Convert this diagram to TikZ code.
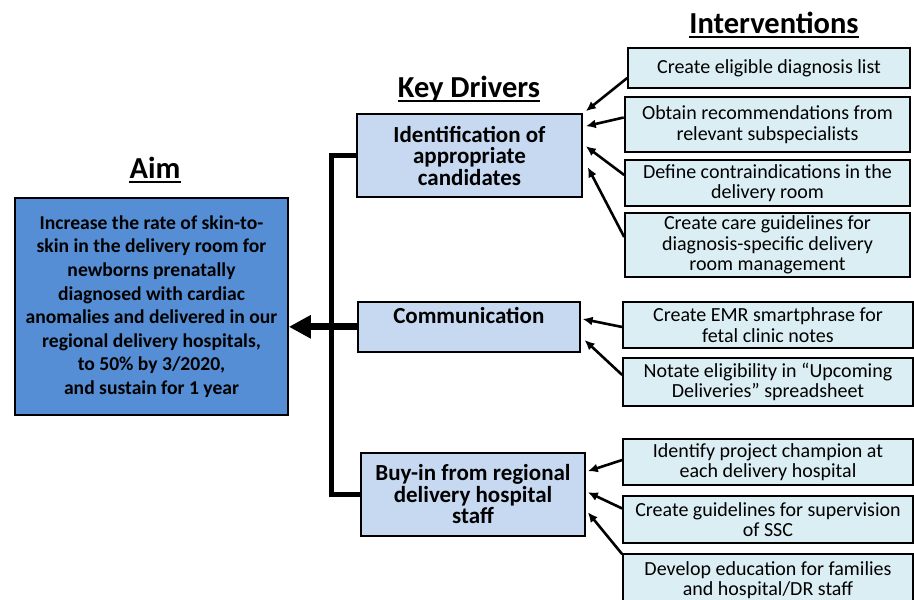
\documentclass[tikz,border=0pt]{standalone}
\usepackage{fontspec}
\setmainfont{Carlito}
\usetikzlibrary{arrows.meta,positioning,calc}
\definecolor{aimblue}{RGB}{85,142,213}
\definecolor{drvblue}{RGB}{198,217,241}
\definecolor{intblue}{RGB}{219,238,244}
\tikzset{
  ttl/.style    ={inner sep=0pt, font=\fontsize{30.5}{32}\selectfont\bfseries, anchor=base},
  uline/.style  ={line width=2pt},
  aimbox/.style ={draw=black, line width=1.6pt, fill=aimblue, align=center, inner sep=0pt,
                  font=\fontsize{19.6}{23.6}\selectfont\bfseries},
  drvbox/.style ={draw=black, line width=1.6pt, fill=drvblue, align=center, inner sep=0pt,
                  font=\fontsize{23}{21.5}\selectfont\bfseries},
  intbox/.style ={draw=black, line width=1.6pt, fill=intblue, align=center, inner sep=0pt,
                  font=\fontsize{20}{20.5}\selectfont},
  ar/.style     ={-{Latex[length=10pt,width=9pt]}, line width=2.6pt},
  bigar/.style  ={-{Triangle[length=22pt,width=22pt]}, line width=7pt},
  trunk/.style  ={line width=5pt},
}
\begin{document}
\begin{tikzpicture}[x=1pt,y=-1pt]
\useasboundingbox (0,0) rectangle (914,600);
% titles
\node[ttl] (taim) at (155,178) {Aim};
\node[ttl] (tdrv) at (469,97) {Key Drivers};
\node[ttl] (tint) at (774,33) {Interventions};
\foreach \t in {taim,tdrv,tint}
  \draw[uline] ([yshift=-4pt]\t.base west) -- ([yshift=-4pt]\t.base east);
% aim
\node[aimbox, minimum width=273pt, minimum height=217pt] (aim) at (151.5,306.5)
  {Increase the rate of skin-to-\\skin in the delivery room for\\newborns prenatally\\diagnosed with cardiac\\anomalies and delivered in our\\regional delivery hospitals,\\to 50\% by 3/2020,\\and sustain for 1 year};
% key drivers
\node[drvbox, minimum width=225pt, minimum height=83pt] (d1) at (469.5,155.5)
  {Identification of\\appropriate\\candidates};
\node[drvbox, anchor=north west, text width=222pt, text height=22pt, text depth=28pt] (d2) at (357,301)
  {Communication};
\node[drvbox, minimum width=224pt, minimum height=83pt] (d3) at (473,494.5)
  {Buy-in from regional\\delivery hospital\\staff};
% interventions
\node[intbox, minimum width=282pt, minimum height=40pt] (i1) at (769,68) {Create eligible diagnosis list};
\node[intbox, minimum width=285pt, minimum height=55pt, line width=2.6pt] (i2) at (767.5,124.5)
  {Obtain recommendations from\\relevant subspecialists};
\node[intbox, minimum width=285pt, minimum height=46pt] (i3) at (767.5,183)
  {Define contraindications in the\\delivery room};
\node[intbox, minimum width=285pt, minimum height=64pt] (i4) at (767.5,245)
  {Create care guidelines for\\diagnosis-specific delivery\\room management};
\node[intbox, minimum width=290pt, minimum height=46pt] (i5) at (768,325)
  {Create EMR smartphrase for\\fetal clinic notes};
\node[intbox, minimum width=290pt, minimum height=48pt] (i6) at (768,382)
  {Notate eligibility in “Upcoming\\Deliveries” spreadsheet};
\node[intbox, minimum width=290pt, minimum height=46pt] (i7) at (768,462)
  {Identify project champion at\\each delivery hospital};
\node[intbox, minimum width=290pt, minimum height=47pt] (i8) at (768,519.5)
  {Create guidelines for supervision\\of SSC};
\node[intbox, minimum width=290pt, minimum height=52pt] (i9) at (768,580)
  {Develop education for families\\and hospital/DR staff};
% connectors
\draw[trunk] (d1.west) -- ++(-25,0) |- (d3.west);
\draw[bigar] (d2.west) -- (d2.west -| aim.east);
\draw[ar] ($(i1.west)+(0,10)$) -- ($(d1.north east)+(3,-2)$);
\draw[ar] ($(i2.west)+(0,-7)$) -- ($(d1.north east)+(3,13)$);
\draw[ar] ($(i3.west)+(0,-8)$) -- ($(d1.north east)+(3,33)$);
\draw[ar] ($(i4.west)+(0,-8)$) -- ($(d1.north east)+(5,54)$);
\draw[ar] ($(i5.west)+(0,2)$) -- ($(d2.north east)+(2,18)$);
\draw[ar] ($(i6.west)+(0,-7)$) -- ($(d2.north east)+(4,39)$);
\draw[ar] ($(i7.west)+(0,-2)$) -- ($(d3.north east)+(2,19)$);
\draw[ar] ($(i8.west)+(0,-11)$) -- ($(d3.north east)+(2,40)$);
\draw[ar] ($(i9.north west)+(0,1)$) -- ($(d3.north east)+(2,60)$);
\end{tikzpicture}
\end{document}
